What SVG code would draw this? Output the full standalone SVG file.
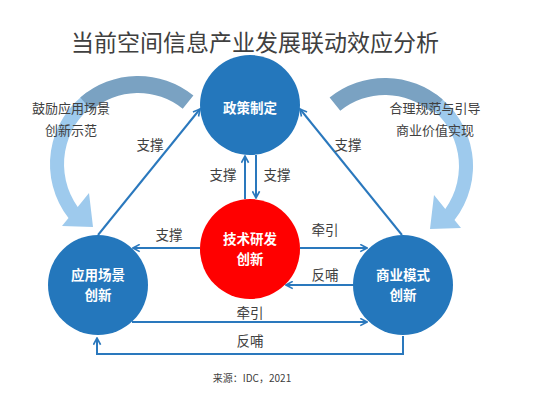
<svg xmlns="http://www.w3.org/2000/svg" xmlns:xlink="http://www.w3.org/1999/xlink" width="543" height="402" viewBox="0 0 543 402">
<style>
.t{font-family:"Noto Sans CJK SC","Noto Sans",sans-serif;fill:#404040;text-anchor:middle}
.title{font-size:23px}
.side{font-size:13px}
.lbl{font-size:13.5px}
.src{font-size:10px}
.nt{font-family:"Noto Sans CJK SC","Noto Sans",sans-serif;font-size:13.5px;font-weight:bold;fill:#ffffff;text-anchor:middle}
.blue{fill:#2477bc}
.red{fill:#ff0000}
.ln{fill:none;stroke:#2a78bd;stroke-width:2}
.steel{fill:#7aa2c2}
.light{fill:#9ecaed}
</style>
<defs>
<marker id="ah" viewBox="0 0 10 10" refX="9" refY="5" markerWidth="9" markerHeight="9" markerUnits="userSpaceOnUse" orient="auto">
<path d="M1.5,1 L9,5 L1.5,9" fill="none" stroke="#2a78bd" stroke-width="1.8"/>
</marker>
<g id="curve">
<path class="light" d="M87.5,91.9 A88,88 0 0 0 68.5,218 L62,226 L93,227 L89,193 L77.7,206.9 A74,74 0 0 1 95.6,103.4 Z"/>
<path class="steel" d="M193.4,95.6 A88,88 0 0 0 80.3,97.6 L91.4,110.4 A71,71 0 0 1 182.7,108.8 Z"/>
</g>
</defs>
<rect width="543" height="402" fill="#ffffff"/>
<text class="t title" x="255" y="51">当前空间信息产业发展联动效应分析</text>
<g id="curved-arrows">
<use xlink:href="#curve"/>
<use xlink:href="#curve" transform="translate(385,166) scale(-1,1) translate(-138,-164)"/>
</g>
<g id="side-notes">
<text class="t side" x="71" y="113">鼓励应用场景</text>
<text class="t side" x="71" y="135">创新示范</text>
<text class="t side" x="435" y="113">合理规范与引导</text>
<text class="t side" x="435" y="135">商业价值实现</text>
</g>
<g id="connectors">
<line class="ln" x1="98" y1="235" x2="200" y2="109" marker-end="url(#ah)"/>
<line class="ln" x1="402" y1="235" x2="300" y2="109" marker-end="url(#ah)"/>
<line class="ln" x1="245" y1="199" x2="245" y2="156" marker-end="url(#ah)"/>
<line class="ln" x1="256" y1="155" x2="256" y2="198" marker-end="url(#ah)"/>
<line class="ln" x1="200" y1="248" x2="133" y2="248" marker-end="url(#ah)"/>
<line class="ln" x1="300" y1="248" x2="367" y2="248" marker-end="url(#ah)"/>
<line class="ln" x1="354" y1="285" x2="286" y2="285" marker-end="url(#ah)"/>
<line class="ln" x1="132" y1="322" x2="367" y2="322" marker-end="url(#ah)"/>
<polyline class="ln" points="403,336 403,354 97,354 97,338" marker-end="url(#ah)"/>
<text class="t lbl" x="150" y="150">支撑</text>
<text class="t lbl" x="348" y="150">支撑</text>
<text class="t lbl" x="223" y="180">支撑</text>
<text class="t lbl" x="277" y="180">支撑</text>
<text class="t lbl" x="169" y="240">支撑</text>
<text class="t lbl" x="325" y="235">牵引</text>
<text class="t lbl" x="325" y="280">反哺</text>
<text class="t lbl" x="250" y="318">牵引</text>
<text class="t lbl" x="250" y="346">反哺</text>
</g>
<g id="node-policy">
<circle class="blue" cx="250" cy="105" r="50"/>
<text class="nt" x="250" y="113">政策制定</text>
</g>
<g id="node-tech">
<circle class="red" cx="250" cy="249" r="50"/>
<text class="nt" x="250" y="244">技术研发</text>
<text class="nt" x="250" y="264">创新</text>
</g>
<g id="node-app">
<circle class="blue" cx="98" cy="285" r="50"/>
<text class="nt" x="98" y="280">应用场景</text>
<text class="nt" x="98" y="300">创新</text>
</g>
<g id="node-biz">
<circle class="blue" cx="403" cy="285" r="50"/>
<text class="nt" x="403" y="280">商业模式</text>
<text class="nt" x="403" y="300">创新</text>
</g>
<text class="t src" x="252" y="382">来源：IDC，2021</text>
</svg>
